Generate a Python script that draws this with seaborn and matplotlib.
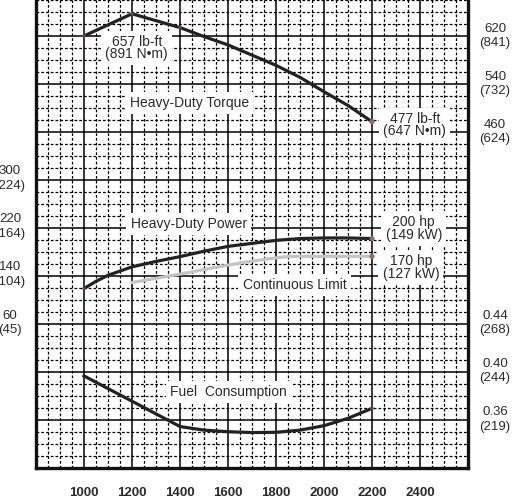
import matplotlib
matplotlib.use("Agg")
import matplotlib.pyplot as plt
import numpy as np
import pandas as pd
import seaborn as sns

# ---- data ----
rpm_torque = [1000, 1200, 1400, 1500, 1600, 1700, 1800, 1900, 2000, 2100, 2200]
torque_lbft = [620, 657, 634, 619, 605, 588, 571, 551, 527, 504, 477]

rpm_power = [1000, 1050, 1100, 1200, 1300, 1400, 1500, 1600, 1700, 1800, 1900, 2000, 2100, 2200]
power_hp = [117, 129, 139, 153, 162, 170, 179, 187, 192, 197, 200, 201, 201, 200]

rpm_cont = [1200, 1300, 1400, 1500, 1600, 1700, 1800, 1850, 1900, 2000, 2200]
cont_hp = [127, 134, 141, 148.5, 156, 162.5, 168, 170, 170.5, 170.5, 170.5]

rpm_fuel = [1000, 1200, 1400, 1450, 1500, 1600, 1700, 1800, 1900, 2000, 2100, 2200]
fuel_lb = [0.396, 0.375, 0.354, 0.3525, 0.351, 0.3497, 0.349, 0.3492, 0.351, 0.3547, 0.3608, 0.3691]

x_ticks = [1000, 1200, 1400, 1600, 1800, 2000, 2200, 2400]
torque_ticks = [620, 540, 460]
torque_ticks_nm = ["(841)", "(732)", "(624)"]
power_ticks = [300, 220, 140, 60]
power_ticks_kw = ["(224)", "(164)", "(104)", "(45)"]
fuel_ticks = [0.44, 0.40, 0.36]
fuel_ticks_g = ["(268)", "(244)", "(219)"]

# ---- figure ----
plt.rcParams['font.family'] = ['Liberation Sans', 'DejaVu Sans']
W, H = 515, 504
fig = plt.figure(figsize=(W / 100, H / 100), dpi=100)
ax_left_px, ax_right_px, ax_bottom_px = 36, 468, 467.5
ax = fig.add_axes([ax_left_px / W, (H - ax_bottom_px) / H,
                   (ax_right_px - ax_left_px) / W, ax_bottom_px / H])
k = ax_bottom_px / 48.2  # number of major grid cells vertically

ax.set_xlim(800, 2600)
ax.set_ylim(-100, -100 + k * 80)
ax_p = ax.twinx()
ax_p.set_ylim(-180, -180 + k * 80)
ax_f = ax.twinx()
ax_f.set_ylim(0.32, 0.32 + k * 0.04)

# grid
ax.set_xticks(np.arange(800, 2601, 200))
ax.set_xticks(np.arange(800, 2601, 50), minor=True)
ax.set_yticks(np.arange(-100, 700, 80))
ax.set_yticks(np.arange(-100, 700, 20), minor=True)
ax.grid(which='major', color='black', lw=1.1, ls='-')
ax.grid(which='minor', color='black', lw=0.9, ls=(0, (2.2, 1.6)))
ax.set_axisbelow(True)
ax.set_xticklabels([str(v) if v in x_ticks else "" for v in range(800, 2601, 200)])
ax.set_yticklabels([])
ax.tick_params(which='both', length=0)
ax.tick_params(axis='x', pad=14, labelsize=9.5, labelcolor='#2a2a2a')
for lab in ax.get_xticklabels():
    lab.set_fontweight('bold')
for a in (ax_p, ax_f):
    a.set_yticks([])
    a.tick_params(length=0)
    for s in a.spines.values():
        s.set_visible(False)
for name in ('left', 'right', 'bottom'):
    ax.spines[name].set_linewidth(2.4)
    ax.spines[name].set_color('#111111')
ax.spines['top'].set_visible(False)

line_kw = dict(lw=2.3, sort=False, legend=False)
df_t = pd.DataFrame({'rpm': rpm_torque, 'v': torque_lbft})
df_p = pd.DataFrame({'rpm': rpm_power, 'v': power_hp})
df_c = pd.DataFrame({'rpm': rpm_cont, 'v': cont_hp})
df_f = pd.DataFrame({'rpm': rpm_fuel, 'v': fuel_lb})
sns.lineplot(data=df_t, x='rpm', y='v', ax=ax, color='#222222', **line_kw)
sns.lineplot(data=df_p, x='rpm', y='v', ax=ax_p, color='#222222', **line_kw)
sns.lineplot(data=df_c, x='rpm', y='v', ax=ax_p, color='#c4c4c4', **line_kw)
sns.lineplot(data=df_f, x='rpm', y='v', ax=ax_f, color='#222222', **line_kw)
for a in (ax, ax_p, ax_f):
    a.set_xlabel('')
    a.set_ylabel('')

# end-point dots
dot = dict(s=14, color='#9a6a58', zorder=5, edgecolor='none')
ax.scatter([rpm_torque[-1]], [torque_lbft[-1]], **dot)
ax_p.scatter([rpm_power[-1]], [power_hp[-1]], **dot)
ax_p.scatter([rpm_cont[-1]], [cont_hp[-1]], **dot)
faint = dict(s=6, color='#9a6a58', alpha=0.6, zorder=5, edgecolor='none')
ax.scatter(rpm_torque[:3], torque_lbft[:3], **faint)
ax_p.scatter([rpm_power[0]], [power_hp[0]], **faint)
ax_f.scatter([rpm_fuel[-1]], [fuel_lb[-1]], **faint)

txt_kw = dict(ha='center', va='center', fontsize=10, color='#2a2a2a',
              bbox=dict(boxstyle='square,pad=0.3', fc='white', ec='none'), zorder=4)
ax.text(1220, 600, "657 lb-ft\n(891 N•m)", linespacing=0.85, **txt_kw)
ax.text(1440, 508, "Heavy-Duty Torque", **txt_kw)
ax.text(2378, 471, "477 lb-ft\n(647 N•m)", linespacing=0.85, **txt_kw)
ax_p.text(1436, 224, "Heavy-Duty Power", **txt_kw)
ax_p.text(2374, 216.5, "200 hp\n(149 kW)", linespacing=0.85, **txt_kw)
ax_p.text(2362, 152, "170 hp\n(127 kW)", linespacing=0.85, **txt_kw)
ax_p.text(1877, 123, "Continuous Limit", **txt_kw)
ax_f.text(1601, 0.3827, "Fuel  Consumption", **txt_kw)

side_kw = dict(ha='center', va='center', fontsize=9.5, color='#2a2a2a',
               linespacing=1.3, clip_on=False)
xr = (495 - ax_left_px) / (ax_right_px - ax_left_px)
xl = (10 - ax_left_px) / (ax_right_px - ax_left_px)
for v, nm in zip(torque_ticks, torque_ticks_nm):
    ax.text(xr, v, f"{v}\n{nm}", transform=ax.get_yaxis_transform(), **side_kw)
for v, kw in zip(power_ticks, power_ticks_kw):
    ax_p.text(xl, v, f"{v}\n{kw}", transform=ax_p.get_yaxis_transform(), **side_kw)
for v, g in zip(fuel_ticks, fuel_ticks_g):
    ax_f.text(xr, v, f"{v:.2f}\n{g}", transform=ax_f.get_yaxis_transform(), **side_kw)

fig.savefig("out.png", dpi=100)
